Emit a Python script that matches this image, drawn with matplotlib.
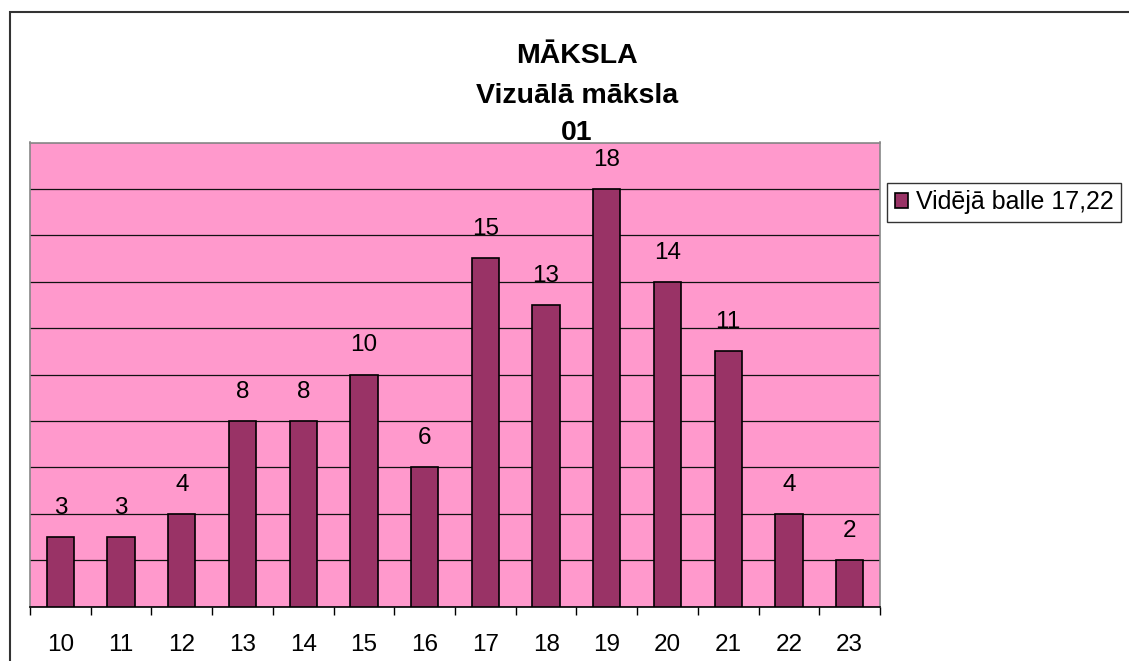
import matplotlib
matplotlib.use("Agg")
import matplotlib.pyplot as plt
from matplotlib.patches import Rectangle
import numpy as np

categories = ["10", "11", "12", "13", "14", "15", "16", "17", "18", "19", "20", "21", "22", "23"]
values = [3, 3, 4, 8, 8, 10, 6, 15, 13, 18, 14, 11, 4, 2]
series_name = "Vidējā balle 17,22"
title_lines = ["MĀKSLA", "Vizuālā māksla", "01"]

plt.rcParams['font.family'] = ['Liberation Sans', 'DejaVu Sans']

W, H = 1129, 661
fig = plt.figure(figsize=(W / 100, H / 100), dpi=100)
fig.patch.set_facecolor("white")

# outer chart border (extends past right/bottom edges)
fig.patches.append(Rectangle((10 / W, -0.05), 1.1, (H - 12) / H + 0.05,
                             transform=fig.transFigure, fill=False,
                             edgecolor="#333333", linewidth=1.5))

ax = fig.add_axes([30 / W, 54.5 / H, 850 / W, 464 / H])
ax.set_facecolor("#FF99CC")
x = np.arange(len(categories))
bars = ax.bar(x, values, width=0.45, color="#993366", edgecolor="black",
              linewidth=1.2, label=series_name, zorder=3)
ax.set_xlim(-0.5, len(categories) - 0.5)
ax.set_ylim(0, 20)
ax.set_yticks(np.arange(0, 21, 2))
ax.yaxis.grid(True, color="#111111", linewidth=0.9, zorder=1)
ax.tick_params(axis="y", left=False, labelleft=False)
ax.set_xticks(x)
ax.set_xticklabels(categories, fontsize=17.5)
ax.set_xticks(np.arange(-0.5, len(categories), 1.0), minor=True)
ax.tick_params(axis="x", which="major", length=0, pad=20)
ax.tick_params(axis="x", which="minor", length=6, width=1, color="black", direction="out")
for s in ["top", "right", "left"]:
    ax.spines[s].set_color("#888888")
    ax.spines[s].set_linewidth(1.2)
ax.spines["bottom"].set_color("black")
ax.spines["bottom"].set_linewidth(1.2)

for xi, v in zip(x, values):
    ax.annotate(str(v), (xi, v), xytext=(0, 13), textcoords="offset points",
                ha="center", va="bottom", fontsize=17.5, zorder=4)

for line, base in zip(title_lines, [63, 103, 140]):
    fig.text(577 / W, 1 - base / H, line, ha="center", va="baseline",
             fontsize=20.5, fontweight="bold")

leg = ax.legend(loc="upper left", bbox_to_anchor=(887 / W, 1 - 183 / H),
                bbox_transform=fig.transFigure, fontsize=18, frameon=True,
                fancybox=False, edgecolor="black", handlelength=0.55,
                handleheight=0.55, handletextpad=0.3, borderpad=0.3,
                borderaxespad=0)
leg.get_frame().set_linewidth(1.0)

fig.savefig("out.png", dpi=100)
